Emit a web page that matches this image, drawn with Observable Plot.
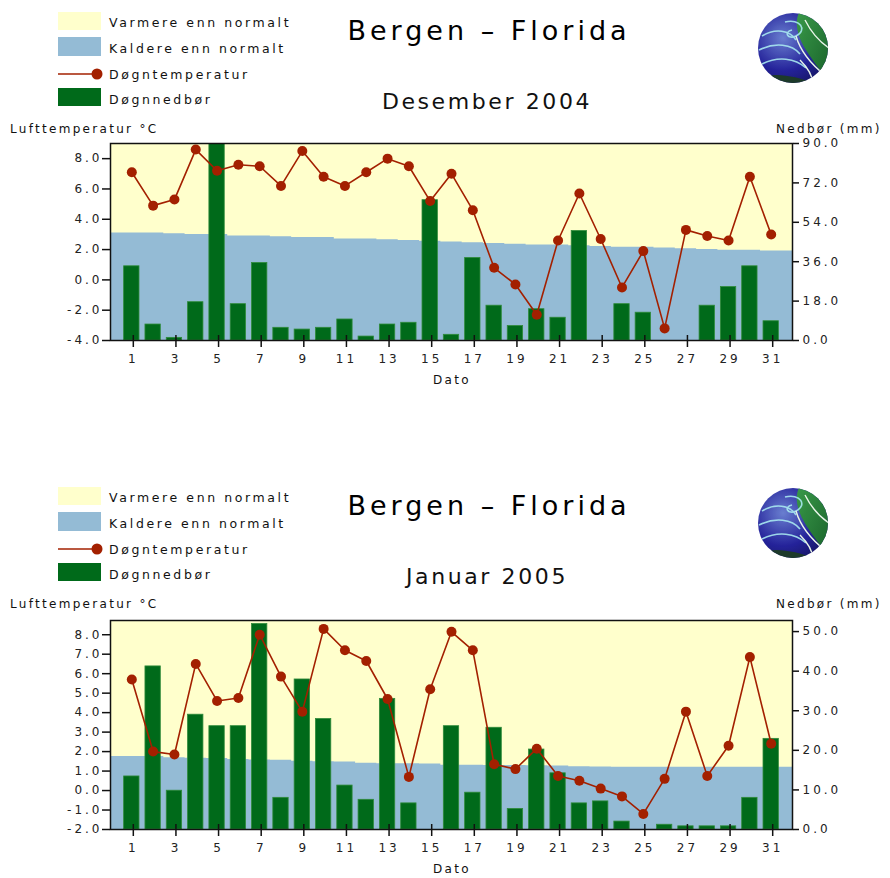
<!DOCTYPE html>
<html>
<head>
<meta charset="utf-8">
<script src="https://cdn.jsdelivr.net/npm/d3@7"></script>
<script src="https://cdn.jsdelivr.net/npm/@observablehq/plot@0.6"></script>
<style>
  html, body { margin: 0; padding: 0; background: #fff; }
  #wrap { position: relative; width: 890px; height: 878px; overflow: hidden; font-family: "DejaVu Sans", sans-serif; }
  .panel { position: absolute; left: 0; width: 890px; }
  .plot { position: absolute; left: 0; }
  .lbl { position: absolute; font-size: 12px; letter-spacing: 2.3px; color: #111; white-space: nowrap; }
</style>
</head>
<body>
<div id="wrap"></div>
<script>
// ---------- data ----------
const days = [1,2,3,4,5,6,7,8,9,10,11,12,13,14,15,16,17,18,19,20,21,22,23,24,25,26,27,28,29,30,31];
const oddDays = [1,3,5,7,9,11,13,15,17,19,21,23,25,27,29,31];

// Desember 2004
const decTemp   = [7.1,4.9,5.3,8.6,7.2,7.6,7.5,6.2,8.5,6.8,6.2,7.1,8.0,7.5,5.2,7.0,4.6,0.8,-0.3,-2.3,2.6,5.7,2.7,-0.5,1.9,-3.2,3.3,2.9,2.6,6.8,3.0];
const decPrecip = [33.9,7.3,1.2,17.5,90,16.6,35.4,5.8,5.0,5.8,9.6,1.8,7.3,8.1,64.1,2.6,37.7,15.9,6.6,14.3,10.4,50.0,0,16.6,12.7,0,0,15.9,24.4,33.9,8.8];
const decNormal = [3.1,3.1,3.05,3.0,3.0,2.9,2.9,2.85,2.8,2.8,2.7,2.7,2.65,2.6,2.55,2.5,2.45,2.4,2.35,2.3,2.3,2.25,2.2,2.15,2.15,2.1,2.05,2.0,1.95,1.95,1.9];
const decTempTicks   = [-4,-2,0,2,4,6,8];
const decPrecipTicks = [0,18,36,54,72,90];

// Januar 2005
const janTemp   = [5.7,2.0,1.85,6.5,4.6,4.75,8.0,5.85,4.05,8.3,7.2,6.65,4.7,0.7,5.2,8.15,7.2,1.35,1.1,2.15,0.75,0.5,0.1,-0.3,-1.2,0.6,4.05,0.75,2.3,6.85,2.4];
const janPrecip = [13.4,41.2,9.8,29.0,26.1,26.1,51.9,8.0,37.9,27.9,11.1,7.5,33.0,6.6,0,26.1,9.3,25.7,5.2,20.2,14.2,6.6,7.1,2.0,0,1.2,0.8,0.8,0.8,8.0,22.9];
const janNormal = [1.75,1.75,1.68,1.66,1.65,1.6,1.57,1.56,1.5,1.48,1.46,1.4,1.38,1.37,1.36,1.3,1.3,1.29,1.28,1.27,1.26,1.22,1.21,1.2,1.2,1.2,1.2,1.2,1.2,1.2,1.2];
const janTempTicks   = [-2,-1,0,1,2,3,4,5,6,7,8];
const janPrecipTicks = [0,10,20,30,40,50];

const legendLabels = ["Varmere enn normalt", "Kaldere enn normalt", "Døgntemperatur", "Døgnnedbør"];
const titleText = "Bergen – Florida";
const yLeftLabel = "Lufttemperatur °C";
const yRightLabel = "Nedbør (mm)";
const xLabel = "Dato";

const C = { warm: "#ffffcc", cold: "#94bbd5", temp: "#a32000", bar: "#006a1a", barEdge: "#2f8a3a" };

// ---------- header (legend, title, logo) ----------
function header(subtitle, idx) {
  const svgNS = "http://www.w3.org/2000/svg";
  return `
  <svg xmlns="${svgNS}" width="890" height="120" style="position:absolute;left:0;top:0;font-family:'DejaVu Sans',sans-serif">
    <defs>
      <clipPath id="lc${idx}"><circle cx="793" cy="48" r="35"/></clipPath>
      <radialGradient id="lg${idx}" cx="35%" cy="35%" r="75%">
        <stop offset="0" stop-color="#6a7fd0"/><stop offset="0.55" stop-color="#25239a"/><stop offset="1" stop-color="#101050"/>
      </radialGradient>
      <linearGradient id="lgg${idx}" x1="0" y1="0" x2="1" y2="1">
        <stop offset="0" stop-color="#3a9a4a"/><stop offset="1" stop-color="#145a25"/>
      </linearGradient>
    </defs>
    <rect x="58" y="12" width="43" height="18" fill="${C.warm}"/>
    <rect x="58" y="37" width="43" height="19" fill="${C.cold}"/>
    <line x1="58" y1="74" x2="96" y2="74" stroke="${C.temp}" stroke-width="1.6"/>
    <circle cx="97" cy="74" r="5.5" fill="${C.temp}"/>
    <rect x="58" y="88" width="43" height="18" fill="${C.bar}"/>
    <g font-size="12.5" letter-spacing="2.6" fill="#111">
      <text x="109" y="27">${legendLabels[0]}</text>
      <text x="109" y="53">${legendLabels[1]}</text>
      <text x="109" y="79">${legendLabels[2]}</text>
      <text x="109" y="104">${legendLabels[3]}</text>
    </g>
    <text x="489" y="40" text-anchor="middle" font-size="27" letter-spacing="4" fill="#000">${titleText}</text>
    <text x="487" y="109" text-anchor="middle" font-size="22" letter-spacing="2.6" fill="#111">${subtitle}</text>
    <g clip-path="url(#lc${idx})">
      <rect x="755" y="10" width="80" height="80" fill="url(#lg${idx})"/>
      <path d="M800,10 C790,30 805,50 820,70 L835,90 L835,10 Z" fill="url(#lgg${idx})"/>
      <path d="M760,78 C780,70 805,80 830,88 L830,95 L755,95 Z" fill="#1d3a2a"/>
      <g fill="none" stroke="#a8e8f0" stroke-width="1.6" opacity="0.9">
        <path d="M762,36 C775,28 790,30 796,40"/>
        <path d="M759,50 C775,42 792,44 800,54"/>
        <path d="M762,64 C778,56 795,58 806,68"/>
        <path d="M785,22 C800,18 808,30 796,36 C788,40 783,32 792,30"/>
      </g>
      <g fill="none" stroke="#e8f4e8" stroke-width="1.4">
        <path d="M796,36 C800,50 808,62 826,76"/>
        <path d="M805,20 C812,34 822,44 832,50"/>
        <path d="M800,60 C810,70 815,80 812,90"/>
      </g>
    </g>
  </svg>`;
}

// ---------- chart ----------
function chart(cfg) {
  const { lo, hi, pmax, temp, precip, normal, tempTicks, precipTicks, height, marginTop, marginBottom } = cfg;
  const toT = mm => lo + mm / pmax * (hi - lo);
  const fromT = t => (t - lo) / (hi - lo) * pmax;
  const rows = days.map((d, i) => ({ day: d, t: temp[i], mm: precip[i] }));
  const norm = [{ x: 0, y: normal[0] }, ...days.map((d, i) => ({ x: d, y: normal[i] })), { x: 32, y: normal[normal.length - 1] }];
  return Plot.plot({
    width: 890,
    height,
    marginLeft: 110,
    marginRight: 98,
    marginTop,
    marginBottom,
    style: { fontFamily: "DejaVu Sans, sans-serif", fontSize: "12px", letterSpacing: "3px", color: "#222", background: "transparent", overflow: "visible" },
    x: { domain: [0, 32] },
    y: { domain: [lo, hi] },
    marks: [
      Plot.frame({ fill: C.warm }),
      Plot.areaY(norm, { x: "x", y1: () => lo, y2: "y", curve: "step", fill: C.cold }),
      Plot.rectY(rows, { x1: d => d.day - 0.36, x2: d => d.day + 0.36, y1: () => lo, y2: d => toT(d.mm), fill: C.bar, stroke: C.barEdge, strokeWidth: 0.8, clip: true, filter: d => d.mm > 0 }),
      Plot.line(rows, { x: "day", y: "t", stroke: C.temp, strokeWidth: 1.6 }),
      Plot.dot(rows, { x: "day", y: "t", r: 5, fill: C.temp }),
      Plot.frame({ stroke: "#111", strokeWidth: 1.5 }),
      Plot.axisY({ anchor: "left", ticks: tempTicks, tickFormat: v => v.toFixed(1), tickSize: 8, tickPadding: 0, label: null, stroke: "#111", strokeWidth: 1.5 }),
      Plot.axisY({ anchor: "right", ticks: precipTicks.map(toT), tickFormat: v => fromT(v).toFixed(1), tickSize: 6, tickPadding: 4, label: null, stroke: "#111", strokeWidth: 1.5 }),
      Plot.axisX({ ticks: oddDays, tickFormat: d => String(d), tickSize: 12, dy: -5, tickPadding: 7, dx: 1.5, label: null, stroke: "#111", strokeWidth: 1.5 })
    ]
  });
}

function panel(top, subtitle, idx, cfg, plotTop) {
  const p = document.createElement("div");
  p.className = "panel";
  p.style.top = top + "px";
  p.style.height = (cfg.height + plotTop) + "px";
  p.innerHTML = header(subtitle, idx);
  const svg = chart(cfg);
  svg.classList.add("plot");
  svg.style.top = plotTop + "px";
  p.appendChild(svg);
  const l1 = document.createElement("div"); l1.className = "lbl"; l1.textContent = yLeftLabel;
  l1.style.left = "10px"; l1.style.top = (plotTop + 2) + "px";
  const l2 = document.createElement("div"); l2.className = "lbl"; l2.textContent = yRightLabel;
  l2.style.left = "776px"; l2.style.top = (plotTop + 2) + "px";
  const l3 = document.createElement("div"); l3.className = "lbl"; l3.textContent = xLabel;
  l3.style.left = "433px"; l3.style.top = (plotTop + cfg.marginTop + cfg.plotH + 33) + "px";
  p.append(l1, l2, l3);
  document.getElementById("wrap").appendChild(p);
}

panel(0, "Desember 2004", 1, {
  lo: -4, hi: 9, pmax: 90, temp: decTemp, precip: decPrecip, normal: decNormal,
  tempTicks: decTempTicks, precipTicks: decPrecipTicks, height: 270, marginTop: 23, marginBottom: 50, plotH: 197
}, 120);

panel(475, "Januar 2005", 2, {
  lo: -2, hi: 8.73, pmax: 52.8, temp: janTemp, precip: janPrecip, normal: janNormal,
  tempTicks: janTempTicks, precipTicks: janPrecipTicks, height: 283, marginTop: 25, marginBottom: 49, plotH: 209
}, 120);
</script>
</body>
</html>
